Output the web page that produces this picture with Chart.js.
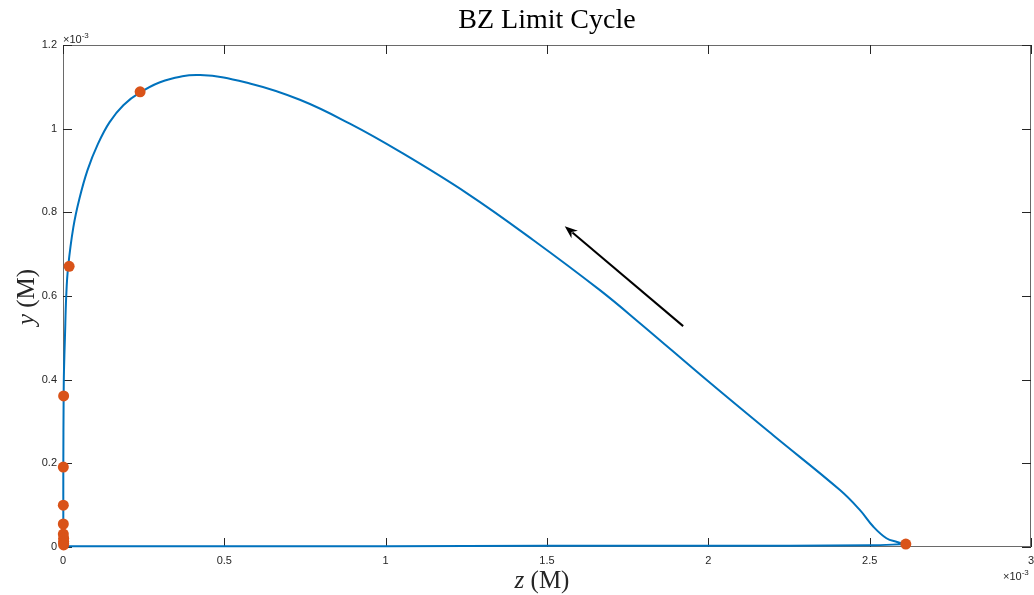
<!DOCTYPE html>
<html>
<head>
<meta charset="utf-8">
<title>BZ Limit Cycle</title>
<script src="https://cdn.jsdelivr.net/npm/chart.js@4.4.1/dist/chart.umd.min.js"></script>
<style>
  html, body { margin: 0; padding: 0; background: #fff; }
  #wrap { width: 1034px; height: 595px; position: relative; }
</style>
</head>
<body>
<div id="wrap"><canvas id="bzChart"></canvas></div>
<script>
// concentrations in units of 1e-3 M (the axes carry the x10^-3 factor)
const cycleZ = [2.612, 2.585, 2.552, 2.511, 2.470, 2.408, 2.201, 1.995, 1.788, 1.664, 1.457, 1.251,
                1.044, 0.889, 0.734, 0.579, 0.425, 0.316, 0.238, 0.187, 0.144, 0.108, 0.076, 0.051,
                0.032, 0.016, 0.010, 0.006, 0.003, 0.002, 0.001, 0.001, 0.001, 0.002, 0.006, 0.03,
                0.1, 0.5, 1.0, 1.5, 2.0, 2.5, 2.612];
const cycleY = [0.007, 0.012, 0.021, 0.049, 0.088, 0.136, 0.267, 0.399, 0.535, 0.614, 0.734, 0.846,
                0.945, 1.012, 1.069, 1.108, 1.128, 1.115, 1.086, 1.056, 1.015, 0.963, 0.901, 0.833,
                0.764, 0.670, 0.600, 0.500, 0.420, 0.360, 0.190, 0.050, 0.012, 0.003, 0.002, 0.002,
                0.002, 0.002, 0.002, 0.003, 0.003, 0.004, 0.007];

// sampled points shown as markers
const markerZ = [2.612, 0.239, 0.019, 0.002, 0.001, 0.001, 0.001, 0.001, 0.002, 0.002, 0.002, 0.002];
const markerY = [0.007, 1.088, 0.671, 0.361, 0.191, 0.100, 0.055, 0.031, 0.021, 0.014, 0.009, 0.005];

const xTicks = [0, 0.5, 1, 1.5, 2, 2.5, 3];
const yTicks = [0, 0.2, 0.4, 0.6, 0.8, 1, 1.2];

// direction arrow: tail, head
const arrowZ = [1.922, 1.555];
const arrowY = [0.528, 0.767];

const tickColor = '#262626';
const serif = '"Liberation Serif", "Times New Roman", serif';

// MATLAB style box, inward ticks, title, arrow, exponent and axis labels
const matlabAxes = {
    id: 'matlabAxes',
    beforeDatasetsDraw(chart) {
        const { ctx, chartArea: a, scales: { x, y } } = chart;
        ctx.save();
        ctx.strokeStyle = '#6a6a6a';
        ctx.lineWidth = 1;
        ctx.strokeRect(a.left + 0.5, a.top + 0.5, a.right - a.left - 1, a.bottom - a.top - 1);

        const len = 9;
        ctx.strokeStyle = tickColor;
        ctx.beginPath();
        xTicks.forEach(v => {
            const px = Math.round(x.getPixelForValue(v)) + 0.5;
            ctx.moveTo(px, a.bottom); ctx.lineTo(px, a.bottom - len);
            ctx.moveTo(px, a.top); ctx.lineTo(px, a.top + len);
        });
        yTicks.forEach(v => {
            const py = Math.round(y.getPixelForValue(v)) + 0.5;
            ctx.moveTo(a.left, py); ctx.lineTo(a.left + len, py);
            ctx.moveTo(a.right, py); ctx.lineTo(a.right - len, py);
        });
        ctx.stroke();
        ctx.restore();
    },
    afterDraw(chart) {
        const { ctx, chartArea: a, scales: { x, y } } = chart;
        ctx.save();

        // title, centred over the plot box
        ctx.fillStyle = '#000';
        ctx.textAlign = 'center';
        ctx.textBaseline = 'middle';
        ctx.font = '28px ' + serif;
        ctx.fillText('BZ Limit Cycle', (a.left + a.right) / 2, 21);

        // arrow
        const x0 = x.getPixelForValue(arrowZ[0]), y0 = y.getPixelForValue(arrowY[0]);
        const x1 = x.getPixelForValue(arrowZ[1]), y1 = y.getPixelForValue(arrowY[1]);
        const ang = Math.atan2(y1 - y0, x1 - x0);
        const head = 13, half = 5;
        const bx = x1 - head * Math.cos(ang), by = y1 - head * Math.sin(ang);
        ctx.strokeStyle = '#000';
        ctx.lineWidth = 2;
        ctx.beginPath();
        ctx.moveTo(x0, y0);
        ctx.lineTo(bx + 3 * Math.cos(ang), by + 3 * Math.sin(ang));
        ctx.stroke();
        ctx.beginPath();
        ctx.moveTo(x1, y1);
        ctx.lineTo(bx - half * Math.sin(ang), by + half * Math.cos(ang));
        ctx.lineTo(bx + 4 * Math.cos(ang), by + 4 * Math.sin(ang));
        ctx.lineTo(bx + half * Math.sin(ang), by - half * Math.cos(ang));
        ctx.closePath();
        ctx.fill();

        // x10^-3 exponent labels
        ctx.fillStyle = tickColor;
        ctx.textBaseline = 'alphabetic';
        ctx.textAlign = 'left';
        const expLabel = (lx, ly) => {
            ctx.font = '11px "Liberation Sans", Arial, sans-serif';
            ctx.fillText('\u00d710', lx, ly);
            const w = ctx.measureText('\u00d710').width;
            ctx.font = '8px "Liberation Sans", Arial, sans-serif';
            ctx.fillText('-3', lx + w, ly - 5);
        };
        expLabel(a.left, a.top - 2);
        expLabel(a.right - 28, a.bottom + 33);

        // axis labels with italic variable names
        const drawLabel = (v, rest, cx, cy, rot) => {
            ctx.save();
            ctx.translate(cx, cy);
            ctx.rotate(rot);
            ctx.textBaseline = 'middle';
            ctx.font = 'italic 25px ' + serif;
            const w1 = ctx.measureText(v).width;
            ctx.font = '25px ' + serif;
            const w2 = ctx.measureText(rest).width;
            const start = -(w1 + w2) / 2;
            ctx.font = 'italic 25px ' + serif;
            ctx.fillText(v, start, 0);
            ctx.font = '25px ' + serif;
            ctx.fillText(rest, start + w1, 0);
            ctx.restore();
        };
        ctx.fillStyle = '#262626';
        drawLabel('z', ' (M)', (a.left + a.right) / 2 - 5, a.bottom + 34, 0);
        drawLabel('y', ' (M)', 27, (a.top + a.bottom) / 2 + 1, -Math.PI / 2);

        ctx.restore();
    }
};

const tickFont = { family: '"Liberation Sans", Arial, sans-serif', size: 11 };

const config = {
    type: 'scatter',
    data: {
        datasets: [
            {
                label: 'markers',
                data: markerZ.map((z, i) => ({ x: z, y: markerY[i] })),
                pointRadius: 5.5,
                pointBackgroundColor: '#D95319',
                pointBorderColor: '#D95319',
                pointBorderWidth: 0,
                showLine: false,
                clip: false
            },
            {
                label: 'cycle',
                data: cycleZ.map((z, i) => ({ x: z, y: cycleY[i] })),
                showLine: true,
                borderColor: '#0072BD',
                borderWidth: 2,
                pointRadius: 0,
                tension: 0.4,
                fill: false,
                clip: false
            }
        ]
    },
    options: {
        responsive: true,
        maintainAspectRatio: false,
        animation: false,
        layout: { autoPadding: false, padding: { left: 0, right: 3, top: 45, bottom: 0 } },
        plugins: {
            legend: { display: false },
            tooltip: { enabled: false },
            title: { display: false }
        },
        scales: {
            x: {
                type: 'linear',
                min: 0,
                max: 3,
                afterBuildTicks: s => { s.ticks = xTicks.map(v => ({ value: v })); },
                afterFit: s => { s.height = 48; s.paddingLeft = 0; s.paddingRight = 0; },
                grid: { display: false, drawTicks: false },
                border: { display: false },
                ticks: {
                    padding: 7, color: tickColor, font: tickFont, maxRotation: 0, autoSkip: false,
                    callback: v => String(v)
                }
            },
            y: {
                type: 'linear',
                min: 0,
                max: 1.2,
                afterBuildTicks: s => { s.ticks = yTicks.map(v => ({ value: v })); },
                afterFit: s => { s.width = 63; s.paddingTop = 0; s.paddingBottom = 0; },
                grid: { display: false, drawTicks: false },
                border: { display: false },
                ticks: {
                    padding: 6, color: tickColor, font: tickFont, autoSkip: false,
                    callback: v => String(v)
                }
            }
        }
    },
    plugins: [matlabAxes]
};

const ctx = document.getElementById('bzChart').getContext('2d');
new Chart(ctx, config);
</script>
</body>
</html>
